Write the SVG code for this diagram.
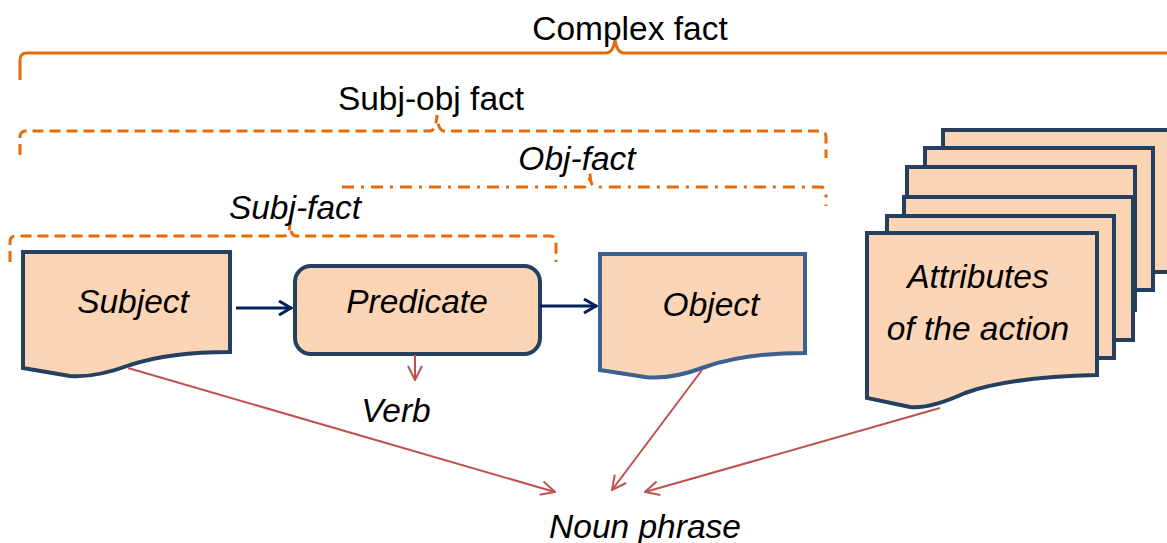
<svg xmlns="http://www.w3.org/2000/svg" width="1167" height="543" viewBox="0 0 1167 543">
<style>
.t{font-family:"Liberation Sans",Arial,sans-serif;font-size:33.5px;fill:#000;text-anchor:middle}
.i{font-style:italic}
.doc{fill:#fbd5b5;stroke:#243f60;stroke-width:4;stroke-linejoin:miter}
.brace{fill:none;stroke:#e46c0a;stroke-width:3}
.nav{stroke:#002060;stroke-width:3;fill:none}
.red{stroke:#c0504d;stroke-width:2;fill:none}
</style>
<defs>
<marker id="an" viewBox="0 0 16 16" refX="15" refY="8" markerWidth="16" markerHeight="16" markerUnits="userSpaceOnUse" orient="auto">
<path d="M2,1 L14,8 L2,15" fill="none" stroke="#002060" stroke-width="3"/>
</marker>
<marker id="ar" viewBox="0 0 16 16" refX="15" refY="8" markerWidth="16" markerHeight="16" markerUnits="userSpaceOnUse" orient="auto">
<path d="M1,1 L15,8 L1,15" fill="none" stroke="#c0504d" stroke-width="2"/>
</marker>
</defs>
<g id="braces">
<path class="brace" d="M20,80 V60 Q20,53 27,53 H606 Q613,53 615,40 Q617,53 624,53 H1167"/>
<path class="brace" stroke-dasharray="11,6" d="M20,155 V137 Q20,131 26,131 H430 Q436,131 437,115 Q438,131 444,131 H820 Q826,131 826,137 V158"/>
<path class="brace" stroke-dasharray="12,7,3,7" d="M342,187 H584 Q590,187 590,172 Q590,187 596,187 H820 Q826,187 826,193 V206"/>
<path class="brace" stroke-dasharray="11,6" d="M10,262 V242 Q10,236 16,236 H284 Q290,236 290,222 Q290,236 296,236 H550 Q556,236 556,242 V262"/>
<text class="t" x="630" y="40">Complex fact</text>
<text class="t" x="431" y="110">Subj-obj fact</text>
<text class="t i" x="577" y="170">Obj-fact</text>
<text class="t i" x="295" y="219">Subj-fact</text>
</g>
<g id="subject">
<path class="doc" d="M23,252 H230 V352 Q170,352 130,365 Q95,378 70,376 L23,368 Z"/>
<text class="t i" x="133" y="313">Subject</text>
</g>
<g id="predicate">
<rect class="doc" x="295" y="266" width="245" height="88" rx="16"/>
<text class="t i" x="417" y="313">Predicate</text>
</g>
<g id="object">
<path class="doc" style="stroke:#3c6090" d="M600,254 H805 V353 Q745,353 705,367 Q670,380 645,377 L600,370 Z"/>
<text class="t i" x="711" y="316">Object</text>
</g>
<g id="attributes">
<rect class="doc" x="943" y="130" width="240" height="142"/>
<rect class="doc" x="925" y="148" width="228" height="142"/>
<rect class="doc" x="907" y="167" width="228" height="143"/>
<rect class="doc" x="904" y="197" width="229" height="143"/>
<rect class="doc" x="887" y="216" width="227" height="142"/>
<path class="doc" d="M867,233 H1097 V375 Q1010,377 965,393 Q930,409 910,407 L867,398 Z"/>
<text class="t i" x="978" y="288">Attributes</text>
<text class="t i" x="978" y="340">of the action</text>
</g>
<g id="verb"><text class="t i" x="396" y="422">Verb</text></g>
<g id="nounphrase"><text class="t i" x="645" y="538">Noun phrase</text></g>
<g id="connectors">
<line class="nav" x1="236" y1="308" x2="292" y2="308" marker-end="url(#an)"/>
<line class="nav" x1="540" y1="306" x2="597" y2="306" marker-end="url(#an)"/>
<line class="red" x1="415" y1="355" x2="415" y2="380" marker-end="url(#ar)"/>
<line class="red" x1="128" y1="368" x2="555" y2="492" marker-end="url(#ar)"/>
<line class="red" x1="702" y1="370" x2="612" y2="490" marker-end="url(#ar)"/>
<line class="red" x1="940" y1="408" x2="645" y2="492" marker-end="url(#ar)"/>
</g>
</svg>
